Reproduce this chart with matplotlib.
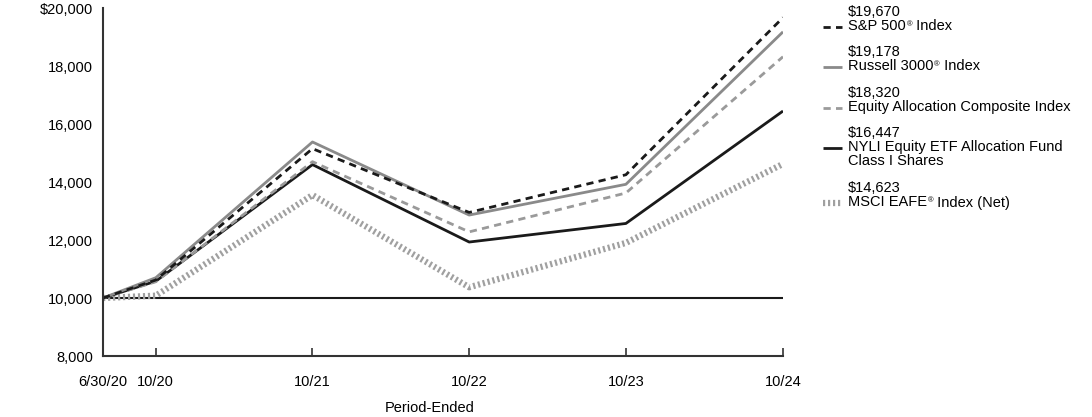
import matplotlib.pyplot as plt
import matplotlib.ticker as mticker
from matplotlib.lines import Line2D
import pandas as pd

plt.rcParams['font.family'] = ['Liberation Sans', 'DejaVu Sans']

# period ends and values of a $10,000 investment
dates = pd.to_datetime(['2020-06-30', '2020-10-31', '2021-10-31',
                        '2022-10-31', '2023-10-31', '2024-10-31'])
date_labels = ['6/30/20', '10/20', '10/21', '10/22', '10/23', '10/24']

sp500 = [10000, 10620, 15150, 12950, 14250, 19670]
russell = [10000, 10700, 15380, 12860, 13920, 19178]
composite = [10000, 10560, 14700, 12280, 13620, 18320]
fund = [10000, 10580, 14600, 11930, 12570, 16447]
msci = [10000, 10080, 13550, 10370, 11900, 14623]

# '|' marks where the small raised ® goes
names = ['S&P 500|Index', 'Russell 3000|Index',
         'Equity Allocation Composite Index',
         'NYLI Equity ETF Allocation Fund\nClass I Shares',
         'MSCI EAFE|Index (Net)']
end_values = ['$19,670', '$19,178', '$18,320', '$16,447', '$14,623']

styles = [
    dict(color='#1a1a1a', lw=2.0, dashes=(2.6, 1.9)),
    dict(color='#8a8a8a', lw=2.0),
    dict(color='#9a9a9a', lw=2.0, dashes=(2.6, 1.9)),
    dict(color='#1a1a1a', lw=2.0),
    dict(color='#a0a0a0', lw=4.5, dashes=(0.35, 0.45)),
]
series = [sp500, russell, composite, fund, msci]

fs = 10.5
fig = plt.figure(figsize=(10.92, 4.17), dpi=100)
ax = fig.add_axes([103 / 1092, 1 - 356 / 417, 680 / 1092, 348 / 417])

ax.axhline(10000, color='#1a1a1a', lw=1.5, zorder=1)
# draw lowest first so the index lines sit on top
for vals, st in reversed(list(zip(series, styles))):
    ax.plot(dates, vals, solid_capstyle='butt', dash_capstyle='butt', zorder=2, **st)

ax.set_xlim(dates[0], dates[-1])
ax.set_ylim(8000, 20000)
ax.set_xticks(dates)
ax.set_xticklabels(date_labels)
ax.set_yticks(range(8000, 20001, 2000))
ax.yaxis.set_major_formatter(mticker.FuncFormatter(
    lambda v, p: f'${v:,.0f}' if v == 20000 else f'{v:,.0f}'))
ax.set_yticks([20000], minor=True)

for s in ['top', 'right']:
    ax.spines[s].set_visible(False)
for s in ['left', 'bottom']:
    ax.spines[s].set_color('#333333')
    ax.spines[s].set_linewidth(1.5)

ax.tick_params(axis='x', direction='in', length=6, width=1.2, color='#333333',
               pad=14, labelsize=fs)
ax.tick_params(axis='y', which='major', length=0, pad=7, labelsize=fs)
ax.tick_params(axis='y', which='minor', direction='in', length=13, width=1.5,
               color='#333333')
ax.set_xlabel('Period-Ended', fontsize=fs)
ax.xaxis.set_label_coords(0.48, -0.128)

# legend built by hand: value above, name beside a short line sample
tops = [12, 52, 93, 133, 188]
for top, val, name, st in zip(tops, end_values, names, styles):
    y_val = 1 - top / 417
    y_name = 1 - (top + 14.5) / 417
    fig.text(848 / 1092, y_val, val, fontsize=fs, va='center')
    if '\n' in name:
        fig.text(848 / 1092, y_name + 8 / 417, name, fontsize=fs, va='top',
                 linespacing=1.05)
    elif '|' in name:
        head, tail = name.split('|')
        t1 = fig.text(848 / 1092, y_name, head, fontsize=fs, va='center')
        t2 = ax.annotate('\u00ae', xy=(1, 1), xycoords=t1, xytext=(0.6, -1.2),
                         textcoords='offset points', fontsize=5.5,
                         va='top', ha='left', annotation_clip=False)
        ax.annotate(' ' + tail, xy=(1, 0.5), xycoords=(t2, t1), xytext=(0, 0),
                    textcoords='offset points', fontsize=fs, va='center',
                    ha='left', annotation_clip=False)
    else:
        fig.text(848 / 1092, y_name, name, fontsize=fs, va='center')
    fig.add_artist(Line2D([823 / 1092, 842 / 1092], [y_name, y_name],
                          transform=fig.transFigure, solid_capstyle='butt',
                          dash_capstyle='butt', **st))

fig.savefig('out.png', dpi=100)
